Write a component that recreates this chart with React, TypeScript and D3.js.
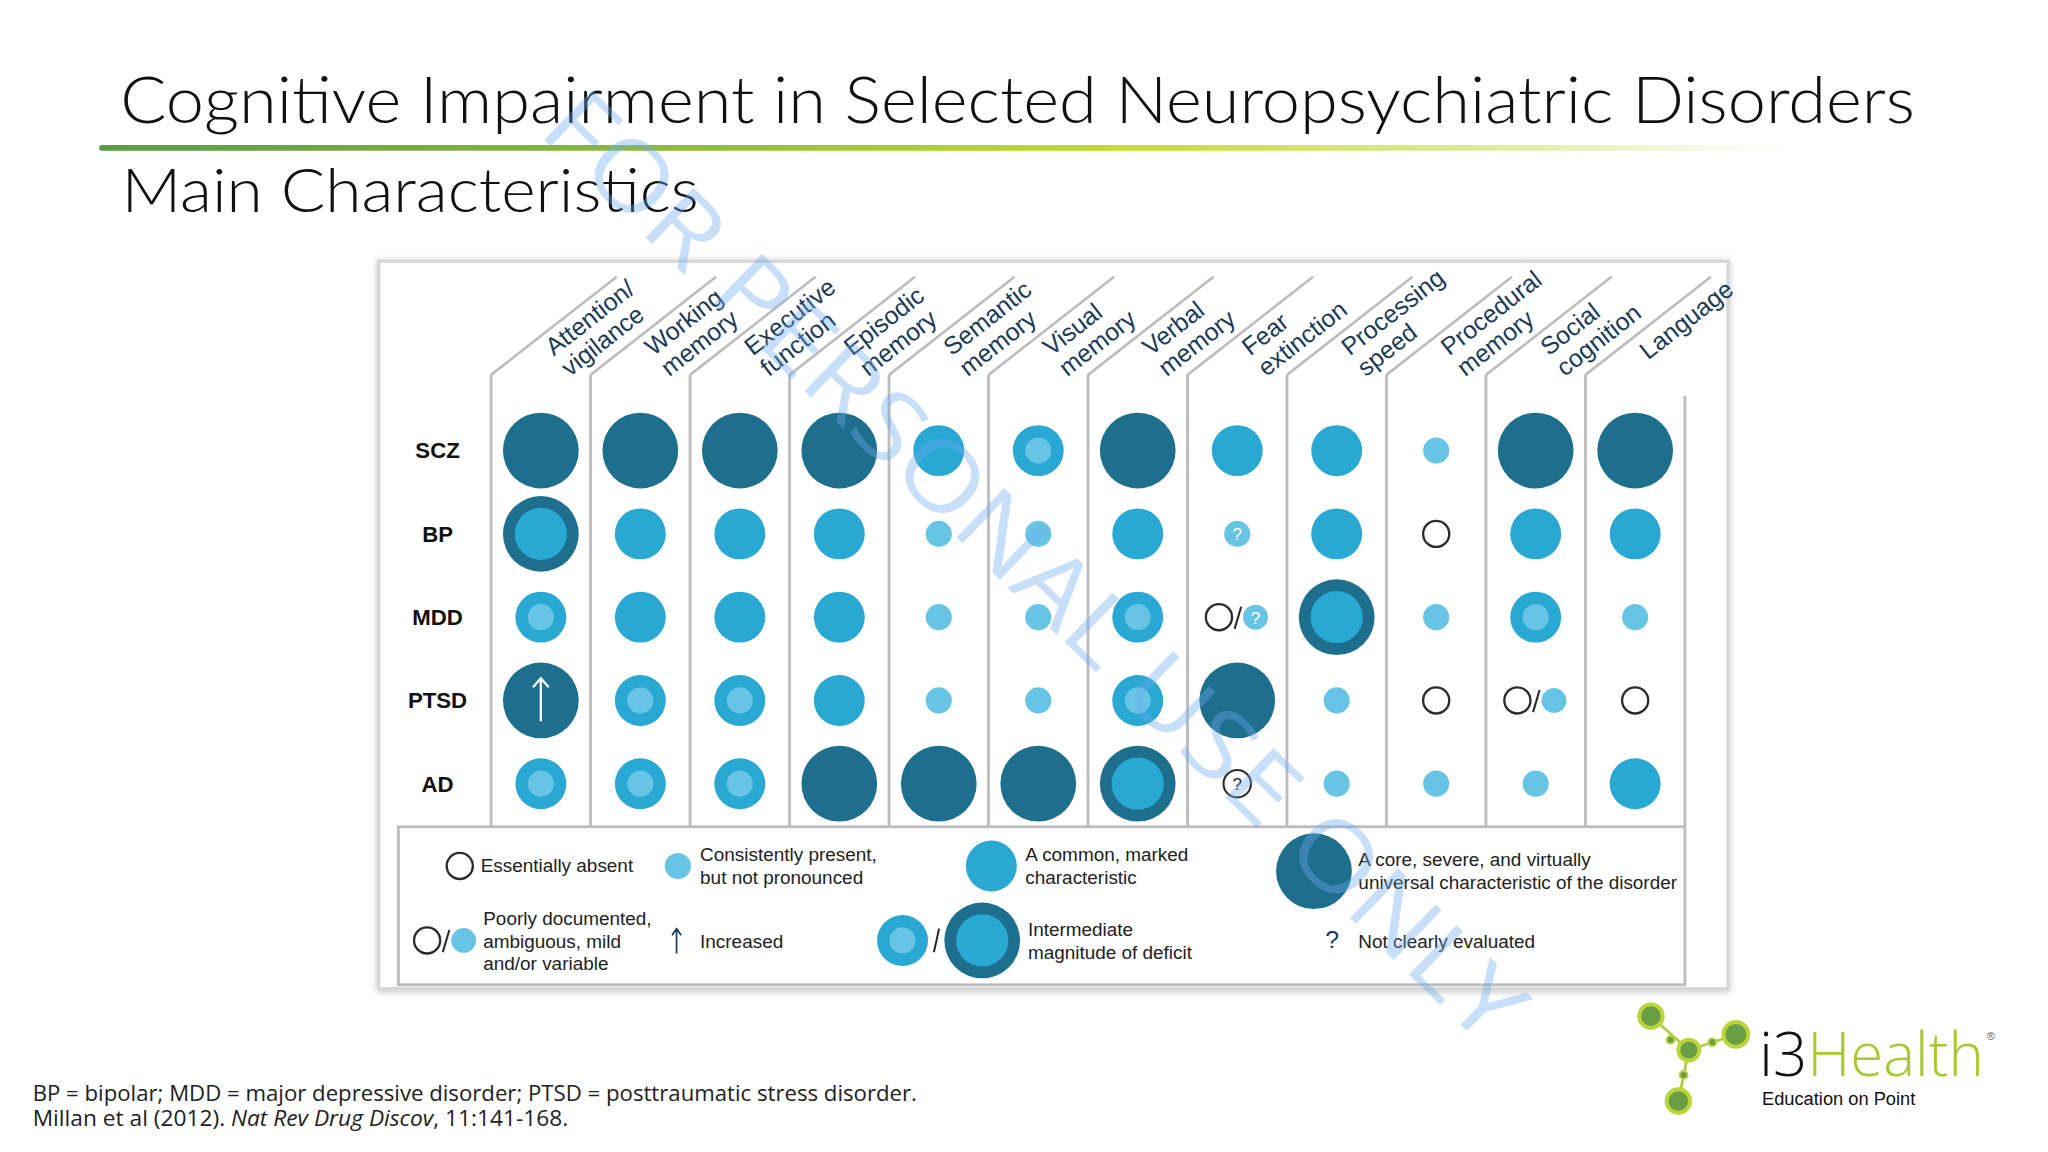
import React from 'react'
import * as d3 from 'd3'

// ---- data ----
const disorders = ['SCZ', 'BP', 'MDD', 'PTSD', 'AD']

const domainLines = [
    ['Attention/', 'vigilance'],
    ['Working', 'memory'],
    ['Executive', 'function'],
    ['Episodic', 'memory'],
    ['Semantic', 'memory'],
    ['Visual', 'memory'],
    ['Verbal', 'memory'],
    ['Fear', 'extinction'],
    ['Processing', 'speed'],
    ['Procedural', 'memory'],
    ['Social', 'cognition'],
    ['Language'],
]

// one rating per domain, in the order above
const sczRatings = ['core', 'core', 'core', 'core', 'common', 'interMild', 'core', 'common', 'common', 'mild', 'core', 'core']
const bpRatings = ['interCore', 'common', 'common', 'common', 'mild', 'mild', 'common', 'mildQ', 'common', 'absent', 'common', 'common']
const mddRatings = ['interMild', 'common', 'common', 'common', 'mild', 'mild', 'interMild', 'poorlyQ', 'interCore', 'mild', 'interMild', 'mild']
const ptsdRatings = ['increased', 'interMild', 'interMild', 'common', 'mild', 'mild', 'interMild', 'core', 'mild', 'absent', 'poorly', 'absent']
const adRatings = ['interMild', 'interMild', 'interMild', 'core', 'core', 'core', 'interCore', 'absentQ', 'mild', 'mild', 'mild', 'common']
const ratingRows = [sczRatings, bpRatings, mddRatings, ptsdRatings, adRatings]

const legendRow1 = [
    { kind: 'absent', lines: ['Essentially absent'] },
    { kind: 'mild', lines: ['Consistently present,', 'but not pronounced'] },
    { kind: 'common', lines: ['A common, marked', 'characteristic'] },
    { kind: 'core', lines: ['A core, severe, and virtually', 'universal characteristic of the disorder'] },
]
const legendRow2 = [
    { kind: 'poorly', lines: ['Poorly documented,', 'ambiguous, mild', 'and/or variable'] },
    { kind: 'arrow', lines: ['Increased'] },
    { kind: 'inter', lines: ['Intermediate', 'magnitude of deficit'] },
    { kind: 'question', lines: ['Not clearly evaluated'] },
]

const footnotes = [
    'BP = bipolar; MDD = major depressive disorder; PTSD = posttraumatic stress disorder.',
]

const DARK = '#1d6f8d'
const MID = '#28a8d3'
const LIGHT = '#68c4e4'
const GRID = '#bdbdbd'
const ARIAL = "'Liberation Sans', Arial, sans-serif"
const THIN = "Lato, 'Open Sans', sans-serif"

const radius = d3.scaleOrdinal<string, number>()
    .domain(['mild', 'common', 'core', 'inner'])
    .range([10, 19.5, 29, 20])

function Glyph({ kind, cx, cy }: { kind: string, cx: number, cy: number }) {
    const rS = radius('mild'), rM = radius('common'), rL = radius('core')
    switch (kind) {
        case 'absent':
            return <circle cx={cx} cy={cy} r={rS} fill="white" stroke="#2b2b2b" strokeWidth={1.8} />
        case 'mild':
            return <circle cx={cx} cy={cy} r={rS} fill={LIGHT} />
        case 'common':
            return <circle cx={cx} cy={cy} r={rM} fill={MID} />
        case 'core':
            return <circle cx={cx} cy={cy} r={rL} fill={DARK} />
        case 'interMild':
            return <g><circle cx={cx} cy={cy} r={rM} fill={MID} /><circle cx={cx} cy={cy} r={rS} fill={LIGHT} /></g>
        case 'interCore':
            return <g><circle cx={cx} cy={cy} r={rL} fill={DARK} /><circle cx={cx} cy={cy} r={radius('inner')} fill={MID} /></g>
        case 'increased':
            return (
                <g>
                    <circle cx={cx} cy={cy} r={rL} fill={DARK} />
                    <path d={`M${cx},${cy + 16}V${cy - 17}M${cx - 6},${cy - 10}L${cx},${cy - 17}L${cx + 6},${cy - 10}`}
                          stroke="white" strokeWidth={1.8} fill="none" />
                </g>
            )
        case 'mildQ':
            return (
                <g>
                    <circle cx={cx} cy={cy} r={rS} fill={LIGHT} />
                    <text x={cx} y={cy + 5} textAnchor="middle" fontSize={13} fill="white" fontFamily={ARIAL}>?</text>
                </g>
            )
        case 'absentQ':
            return (
                <g>
                    <circle cx={cx} cy={cy} r={10.5} fill="white" stroke="#2b2b2b" strokeWidth={1.6} />
                    <text x={cx} y={cy + 5} textAnchor="middle" fontSize={13} fill="#222" fontFamily={ARIAL}>?</text>
                </g>
            )
        case 'poorly':
        case 'poorlyQ':
            return (
                <g>
                    <circle cx={cx - 14} cy={cy} r={rS} fill="white" stroke="#2b2b2b" strokeWidth={1.8} />
                    <line x1={cx + 3} y1={cy - 8} x2={cx - 2} y2={cy + 9} stroke="#2b2b2b" strokeWidth={1.6} />
                    <circle cx={cx + 14} cy={cy} r={rS - 0.5} fill={LIGHT} />
                    {kind === 'poorlyQ' &&
                        <text x={cx + 14} y={cy + 5} textAnchor="middle" fontSize={13} fill="white" fontFamily={ARIAL}>?</text>}
                </g>
            )
        default:
            return null
    }
}

export default function App() {
    const colKeys = domainLines.map(d => d.join(' '))
    const x = d3.scaleBand().domain(colKeys).range([376, 1290]).padding(0)
    const y = d3.scalePoint().domain(disorders).range([345, 600])
    const headerBase = 287
    const gridBottom = 633
    const diagAngle = 38
    const diagLen = 122
    const dx = Math.cos(diagAngle * Math.PI / 180) * diagLen
    const dy = Math.sin(diagAngle * Math.PI / 180) * diagLen

    // legend layout
    const leg1Y = 663
    const leg2Y = 720
    const leg1X = [352, 519, 759, 1006]
    const leg1TextX = [368, 536, 785, 1040]
    const leg2TextX = [370, 536, 787, 1040]

    return (
        <div style={{ position: 'fixed', left: 0, top: 0, width: 2048, height: 1152, background: 'white' }}>
            <svg width={2048} height={1152} viewBox="0 0 1568 882">
                <defs>
                    <linearGradient id="rule" x1="0" x2="1" y1="0" y2="0">
                        <stop offset="0" stopColor="#5c9a48" />
                        <stop offset="0.35" stopColor="#8fbb3e" />
                        <stop offset="0.6" stopColor="#c3da33" />
                        <stop offset="0.85" stopColor="#e3edaa" />
                        <stop offset="1" stopColor="#ffffff" />
                    </linearGradient>
                    <filter id="shadow" x="-5%" y="-5%" width="110%" height="110%">
                        <feDropShadow dx="0" dy="1" stdDeviation="2.5" floodColor="#000" floodOpacity="0.25" />
                    </filter>
                </defs>
                <rect width={1568} height={882} fill="white" />

                {/* title block */}
                <text x={92} y={94} fontSize={50} fontFamily={THIN} fontWeight={300} fill="#111"
                      textLength={1374} lengthAdjust="spacingAndGlyphs">
                    Cognitive Impairment in Selected Neuropsychiatric Disorders
                </text>
                <rect x={76} y={111} width={1290} height={4.5} rx={2} fill="url(#rule)" />
                <text x={93} y={162} fontSize={46} fontFamily={THIN} fontWeight={300} fill="#111"
                      textLength={442} lengthAdjust="spacingAndGlyphs">
                    Main Characteristics
                </text>

                {/* figure frame */}
                <rect x={290} y={200} width={1033} height={557} fill="white" stroke="#d6d6d6" strokeWidth={2.5} filter="url(#shadow)" />

                {/* column separators and slanted header lines */}
                {colKeys.map(k => {
                    const x0 = x(k)!
                    return (
                        <g key={`col-${k}`}>
                            <line x1={x0} y1={headerBase} x2={x0} y2={gridBottom} stroke={GRID} strokeWidth={2.2} />
                            <line x1={x0} y1={headerBase} x2={x0 + dx} y2={headerBase - dy} stroke={GRID} strokeWidth={2} />
                        </g>
                    )
                })}
                <line x1={1290} y1={303} x2={1290} y2={gridBottom} stroke={GRID} strokeWidth={2.2} />

                {/* header labels */}
                {domainLines.map((lines, i) => {
                    const x0 = x(colKeys[i])!
                    const single = lines.length === 1
                    const tx = single ? x0 + 48 : x0 + 48
                    const ty = single ? 276 : 273
                    return (
                        <g key={`hdr-${i}`} transform={`translate(${tx},${ty}) rotate(${-diagAngle})`}>
                            {lines.map((t, j) => (
                                <text key={j} x={0} y={j * 20} fontSize={19} fontFamily={ARIAL} fill="#1b3a57">{t}</text>
                            ))}
                        </g>
                    )
                })}

                {/* row labels */}
                {disorders.map(d => (
                    <text key={`row-${d}`} x={335} y={y(d)! + 6} textAnchor="middle" fontSize={17} fontWeight="bold"
                          fontFamily={ARIAL} fill="#111">{d}</text>
                ))}

                {/* rating glyphs */}
                {ratingRows.map((row, ri) => row.map((kind, ci) => (
                    <Glyph key={`g-${ri}-${ci}`} kind={kind}
                           cx={x(colKeys[ci])! + x.bandwidth() / 2} cy={y(disorders[ri])!} />
                )))}

                {/* legend box */}
                <rect x={305} y={gridBottom} width={985} height={121} fill="white" stroke={GRID} strokeWidth={2.2} />

                {legendRow1.map((item, i) => {
                    const cx = leg1X[i]
                    const cy = item.kind === 'core' ? leg1Y + 4 : leg1Y
                    const y0 = item.lines.length === 1 ? leg1Y + 5 : (item.kind === 'core' ? leg1Y : leg1Y - 4)
                    return (
                        <g key={`l1-${i}`}>
                            <Glyph kind={item.kind} cx={cx} cy={cy} />
                            {item.lines.map((t, j) => (
                                <text key={j} x={leg1TextX[i]} y={y0 + j * 18} fontSize={14.5} fontFamily={ARIAL} fill="#222">{t}</text>
                            ))}
                        </g>
                    )
                })}

                {/* legend row 2 */}
                <Glyph kind="poorly" cx={341} cy={leg2Y} />
                <path d={`M518,${leg2Y + 10}V${leg2Y - 8}M514.5,${leg2Y - 4}L518,${leg2Y - 9}L521.5,${leg2Y - 4}`}
                      stroke="#1b3a57" strokeWidth={1.3} fill="none" />
                <Glyph kind="interMild" cx={691} cy={leg2Y} />
                <line x1={719} y1={leg2Y - 9} x2={715} y2={leg2Y + 9} stroke="#222" strokeWidth={1.5} />
                <Glyph kind="interCore" cx={752} cy={leg2Y} />
                <text x={1020} y={leg2Y + 6} textAnchor="middle" fontSize={19} fontFamily={ARIAL} fill="#1b3a57">?</text>
                {legendRow2.map((item, i) => {
                    const n = item.lines.length
                    const y0 = n === 1 ? leg2Y + 6 : (n === 3 ? leg2Y - 12 : leg2Y - 3)
                    return (
                        <g key={`l2-${i}`}>
                            {item.lines.map((t, j) => (
                                <text key={j} x={leg2TextX[i]} y={y0 + j * 17.5} fontSize={14.5} fontFamily={ARIAL} fill="#222">{t}</text>
                            ))}
                        </g>
                    )
                })}

                {/* footnotes */}
                <text x={25} y={843} fontSize={16} fontFamily="'Open Sans', sans-serif" fill="#222"
                      textLength={677} lengthAdjust="spacingAndGlyphs">{footnotes[0]}</text>
                <text x={25} y={862} fontSize={16} fontFamily="'Open Sans', sans-serif" fill="#222"
                      textLength={410} lengthAdjust="spacingAndGlyphs">
                    Millan et al (2012). <tspan fontStyle="italic">Nat Rev Drug Discov</tspan>, 11:141-168.
                </text>

                {/* logo */}
                <g>
                    <line x1={1264} y1={778} x2={1293} y2={804} stroke="#a9cc3a" strokeWidth={2} />
                    <line x1={1329} y1={792} x2={1293} y2={804} stroke="#a9cc3a" strokeWidth={2} />
                    <line x1={1293} y1={804} x2={1285} y2={843} stroke="#a9cc3a" strokeWidth={2} />
                    {[[1264, 778, 9], [1329, 792, 9.5], [1293, 804, 8], [1285, 843, 9], [1279, 796, 3], [1311, 798, 3], [1289, 823, 3]].map(([cx, cy, r], i) => (
                        <circle key={`m-${i}`} cx={cx} cy={cy} r={r} fill="#6a9e46" stroke="#b9d53a" strokeWidth={r > 4 ? 3 : 1.5} />
                    ))}
                    <text x={1347} y={824} fontSize={47} fontFamily="'Open Sans', sans-serif" fontWeight={300}
                          textLength={172} lengthAdjust="spacingAndGlyphs">
                        <tspan fill="#111">i3</tspan><tspan fill="#a8c934">Health</tspan>
                    </text>
                    <text x={1521} y={796} fontSize={9} fontFamily={ARIAL} fill="#666">®</text>
                    <text x={1349} y={846} fontSize={14} fontFamily={ARIAL} fill="#111">Education on Point</text>
                </g>

                {/* watermark */}
                <text x={0} y={0} transform="translate(788,438) rotate(44)" textAnchor="middle" dominantBaseline="middle"
                      fontSize={74} fontFamily="'Open Sans', sans-serif" fontWeight={400}
                      fill="rgb(110,170,240)" fillOpacity={0.38} textLength={1010} lengthAdjust="spacingAndGlyphs">
                    FOR PERSONAL USE ONLY
                </text>
            </svg>
        </div>
    )
}
